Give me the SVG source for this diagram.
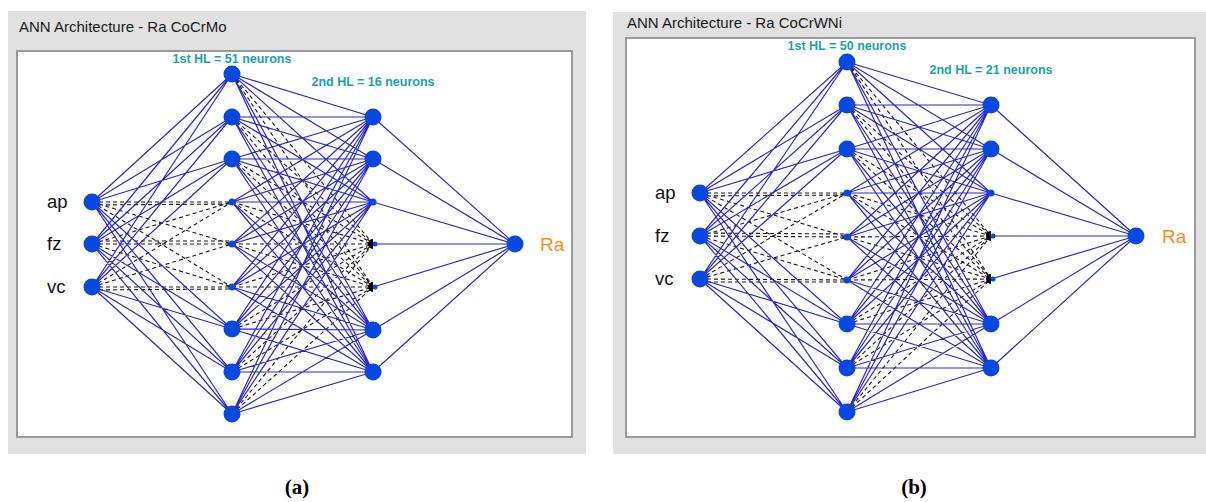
<svg xmlns="http://www.w3.org/2000/svg" width="1206" height="502" viewBox="0 0 1206 502">
  <style>
    .panel { fill: #e1e1e1; }
    .frame { fill: #ffffff; stroke: #9a9a9a; stroke-width: 2; }
    .title { font-family: "Liberation Sans", Arial, sans-serif; font-size: 15px; fill: #1a1a1a; }
    .hl { font-family: "Liberation Sans", Arial, sans-serif; font-size: 12.5px; font-weight: bold; fill: #1ba3ad; text-anchor: middle; }
    .inp { font-family: "Liberation Sans", Arial, sans-serif; font-size: 18.5px; fill: #111111; }
    .out { font-family: "Liberation Sans", Arial, sans-serif; font-size: 19px; fill: #ff8c1a; }
    .cap { font-family: "Liberation Serif", "Times New Roman", serif; font-size: 21px; font-weight: bold; fill: #000000; text-anchor: middle; }
    .wire { fill: none; stroke: #2a2acc; stroke-width: 1.2; }
    .ghost { fill: none; stroke: #1a1a1a; stroke-width: 1.1; stroke-dasharray: 4 3; }
    .big { fill: #0848dc; }
    .dot { fill: #0848dc; }
    .mark { fill: #000000; }
  </style>

  <!-- Panel (a): CoCrMo network -->
  <g id="panel-a">
    <rect class="panel" x="8" y="11" width="578" height="443"/>
    <text class="title" x="19" y="32">ANN Architecture - Ra CoCrMo</text>
    <rect class="frame" x="17" y="51" width="555" height="386"/>
    <text class="hl" x="232" y="63">1st HL = 51 neurons</text>
    <text class="hl" x="373" y="86">2nd HL = 16 neurons</text>

    <g id="a-connectors">
      <path class="ghost" d="M92 202L232 202M92 202L232 244M92 202L232 287M92 244L232 202M92 244L232 244M92 244L232 287M92 287L232 202M92 287L232 244M92 287L232 287M92 205L232 204M92 241L232 241M92 290L232 289
        M232 74L373 244M232 74L373 287M232 117L373 244M232 117L373 287M232 159L373 244M232 159L373 287M232 202L373 244M232 202L373 287M232 244L373 244M232 244L373 287M232 287L373 244M232 287L373 287M232 329L373 244M232 329L373 287M232 372L373 244M232 372L373 287M232 414L373 244M232 414L373 287"/>
      <path class="wire" d="M92 202L232 74M92 202L232 117M92 202L232 159M92 202L232 329M92 202L232 372M92 202L232 414
        M92 244L232 74M92 244L232 117M92 244L232 159M92 244L232 329M92 244L232 372M92 244L232 414
        M92 287L232 74M92 287L232 117M92 287L232 159M92 287L232 329M92 287L232 372M92 287L232 414
        M232 74L373 117M232 74L373 159M232 74L373 202M232 74L373 330M232 74L373 372
        M232 117L373 117M232 117L373 159M232 117L373 202M232 117L373 330M232 117L373 372
        M232 159L373 117M232 159L373 159M232 159L373 202M232 159L373 330M232 159L373 372
        M232 202L373 117M232 202L373 159M232 202L373 202M232 202L373 330M232 202L373 372
        M232 244L373 117M232 244L373 159M232 244L373 202M232 244L373 330M232 244L373 372
        M232 287L373 117M232 287L373 159M232 287L373 202M232 287L373 330M232 287L373 372
        M232 329L373 117M232 329L373 159M232 329L373 202M232 329L373 330M232 329L373 372
        M232 372L373 117M232 372L373 159M232 372L373 202M232 372L373 330M232 372L373 372
        M232 414L373 117M232 414L373 159M232 414L373 202M232 414L373 330M232 414L373 372
        M373 117L515 244M373 159L515 244M373 202L515 244M373 244L515 244M373 287L515 244M373 330L515 244M373 372L515 244"/>
    </g>

    <!-- input layer -->
    <g id="a-in-ap"><circle class="big" cx="92" cy="202" r="8.5"/><text class="inp" x="47" y="208">ap</text></g>
    <g id="a-in-fz"><circle class="big" cx="92" cy="244" r="8.5"/><text class="inp" x="47" y="250">fz</text></g>
    <g id="a-in-vc"><circle class="big" cx="92" cy="287" r="8.5"/><text class="inp" x="47" y="293">vc</text></g>

    <!-- first hidden layer -->
    <g id="a-h1-1"><circle class="big" cx="232" cy="74" r="8.5"/></g>
    <g id="a-h1-2"><circle class="big" cx="232" cy="117" r="8.5"/></g>
    <g id="a-h1-3"><circle class="big" cx="232" cy="159" r="8.5"/></g>
    <g id="a-h1-4"><circle class="dot" cx="232" cy="202" r="3.5"/></g>
    <g id="a-h1-5"><circle class="dot" cx="232" cy="244" r="3.5"/></g>
    <g id="a-h1-6"><circle class="dot" cx="232" cy="287" r="3.5"/></g>
    <g id="a-h1-7"><circle class="big" cx="232" cy="329" r="8.5"/></g>
    <g id="a-h1-8"><circle class="big" cx="232" cy="372" r="8.5"/></g>
    <g id="a-h1-9"><circle class="big" cx="232" cy="414" r="8.5"/></g>

    <!-- second hidden layer -->
    <g id="a-h2-1"><circle class="big" cx="373" cy="117" r="8.5"/></g>
    <g id="a-h2-2"><circle class="big" cx="373" cy="159" r="8.5"/></g>
    <g id="a-h2-3"><circle class="dot" cx="373" cy="202" r="3.5"/></g>
    <g id="a-h2-4"><path class="mark" d="M373 239A5 5 0 0 0 373 249Z"/><circle class="dot" cx="375" cy="244" r="2.5"/></g>
    <g id="a-h2-5"><path class="mark" d="M373 282A5 5 0 0 0 373 292Z"/><circle class="dot" cx="375" cy="287" r="2.5"/></g>
    <g id="a-h2-6"><circle class="big" cx="373" cy="330" r="8.5"/></g>
    <g id="a-h2-7"><circle class="big" cx="373" cy="372" r="8.5"/></g>

    <!-- output -->
    <g id="a-out-ra"><circle class="big" cx="515" cy="244" r="8.5"/><text class="out" x="540" y="251">Ra</text></g>

    <text class="cap" x="297" y="494">(a)</text>
  </g>

  <!-- Panel (b): CoCrWNi network -->
  <g id="panel-b">
    <rect class="panel" x="613" y="12" width="593" height="442"/>
    <text class="title" x="627" y="28">ANN Architecture - Ra CoCrWNi</text>
    <rect class="frame" x="626" y="38" width="569" height="399"/>
    <text class="hl" x="847" y="50">1st HL = 50 neurons</text>
    <text class="hl" x="991" y="74">2nd HL = 21 neurons</text>

    <g id="b-connectors">
      <path class="ghost" d="M700 193L847 193M700 193L847 237M700 193L847 280M700 236L847 193M700 236L847 237M700 236L847 280M700 279L847 193M700 279L847 237M700 279L847 280M700 196L847 195M700 233L847 234M700 282L847 282
        M847 62L991 236M847 62L991 279M847 105L991 236M847 105L991 279M847 149L991 236M847 149L991 279M847 193L991 236M847 193L991 279M847 237L991 236M847 237L991 279M847 280L991 236M847 280L991 279M847 324L991 236M847 324L991 279M847 368L991 236M847 368L991 279M847 412L991 236M847 412L991 279"/>
      <path class="wire" d="M700 193L847 62M700 193L847 105M700 193L847 149M700 193L847 324M700 193L847 368M700 193L847 412
        M700 236L847 62M700 236L847 105M700 236L847 149M700 236L847 324M700 236L847 368M700 236L847 412
        M700 279L847 62M700 279L847 105M700 279L847 149M700 279L847 324M700 279L847 368M700 279L847 412
        M847 62L991 105M847 62L991 149M847 62L991 193M847 62L991 324M847 62L991 368
        M847 105L991 105M847 105L991 149M847 105L991 193M847 105L991 324M847 105L991 368
        M847 149L991 105M847 149L991 149M847 149L991 193M847 149L991 324M847 149L991 368
        M847 193L991 105M847 193L991 149M847 193L991 193M847 193L991 324M847 193L991 368
        M847 237L991 105M847 237L991 149M847 237L991 193M847 237L991 324M847 237L991 368
        M847 280L991 105M847 280L991 149M847 280L991 193M847 280L991 324M847 280L991 368
        M847 324L991 105M847 324L991 149M847 324L991 193M847 324L991 324M847 324L991 368
        M847 368L991 105M847 368L991 149M847 368L991 193M847 368L991 324M847 368L991 368
        M847 412L991 105M847 412L991 149M847 412L991 193M847 412L991 324M847 412L991 368
        M991 105L1136 236M991 149L1136 236M991 193L1136 236M991 236L1136 236M991 279L1136 236M991 324L1136 236M991 368L1136 236"/>
    </g>

    <!-- input layer -->
    <g id="b-in-ap"><circle class="big" cx="700" cy="193" r="8.5"/><text class="inp" x="655" y="199">ap</text></g>
    <g id="b-in-fz"><circle class="big" cx="700" cy="236" r="8.5"/><text class="inp" x="655" y="242">fz</text></g>
    <g id="b-in-vc"><circle class="big" cx="700" cy="279" r="8.5"/><text class="inp" x="655" y="285">vc</text></g>

    <!-- first hidden layer -->
    <g id="b-h1-1"><circle class="big" cx="847" cy="62" r="8.5"/></g>
    <g id="b-h1-2"><circle class="big" cx="847" cy="105" r="8.5"/></g>
    <g id="b-h1-3"><circle class="big" cx="847" cy="149" r="8.5"/></g>
    <g id="b-h1-4"><circle class="dot" cx="847" cy="193" r="3.5"/></g>
    <g id="b-h1-5"><circle class="dot" cx="847" cy="237" r="3.5"/></g>
    <g id="b-h1-6"><circle class="dot" cx="847" cy="280" r="3.5"/></g>
    <g id="b-h1-7"><circle class="big" cx="847" cy="324" r="8.5"/></g>
    <g id="b-h1-8"><circle class="big" cx="847" cy="368" r="8.5"/></g>
    <g id="b-h1-9"><circle class="big" cx="847" cy="412" r="8.5"/></g>

    <!-- second hidden layer -->
    <g id="b-h2-1"><circle class="big" cx="991" cy="105" r="8.5"/></g>
    <g id="b-h2-2"><circle class="big" cx="991" cy="149" r="8.5"/></g>
    <g id="b-h2-3"><circle class="dot" cx="991" cy="193" r="3.5"/></g>
    <g id="b-h2-4"><path class="mark" d="M991 231A5 5 0 0 0 991 241Z"/><circle class="dot" cx="993" cy="236" r="2.5"/></g>
    <g id="b-h2-5"><path class="mark" d="M991 274A5 5 0 0 0 991 284Z"/><circle class="dot" cx="993" cy="279" r="2.5"/></g>
    <g id="b-h2-6"><circle class="big" cx="991" cy="324" r="8.5"/></g>
    <g id="b-h2-7"><circle class="big" cx="991" cy="368" r="8.5"/></g>

    <!-- output -->
    <g id="b-out-ra"><circle class="big" cx="1136" cy="236" r="8.5"/><text class="out" x="1162" y="243">Ra</text></g>

    <text class="cap" x="914" y="494">(b)</text>
  </g>
</svg>
